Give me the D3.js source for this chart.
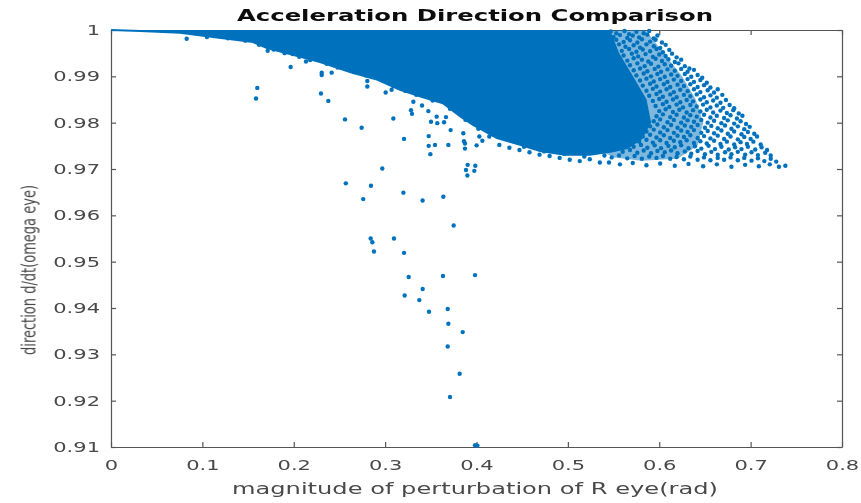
<!DOCTYPE html>
<html>
<head>
<meta charset="utf-8">
<script src="https://cdn.jsdelivr.net/npm/d3@7"></script>
<style>
  body { margin: 0; background: #fff; }
  svg { display: block; }
</style>
</head>
<body>
<svg id="chart"></svg>
<script>
// tick values and labels
const xTicks = [0, 0.1, 0.2, 0.3, 0.4, 0.5, 0.6, 0.7, 0.8];
const xTickLabels = ['0', '0.1', '0.2', '0.3', '0.4', '0.5', '0.6', '0.7', '0.8'];
const yTicks = [0.91, 0.92, 0.93, 0.94, 0.95, 0.96, 0.97, 0.98, 0.99, 1];
const yTickLabels = ['0.91', '0.92', '0.93', '0.94', '0.95', '0.96', '0.97', '0.98', '0.99', '1'];

// outline of the saturated part of the cloud (points overlap completely there)
const coreBoundary = [
  [0, 1.0], [0.032, 0.9998], [0.0755, 0.9994], [0.1116, 0.9985], [0.1554, 0.9974],
  [0.1707, 0.9961], [0.1959, 0.9948], [0.2287, 0.9931], [0.2616, 0.9909], [0.2911, 0.9893],
  [0.3163, 0.9871], [0.3414, 0.9855], [0.3633, 0.9842], [0.3819, 0.9814], [0.3962, 0.9795],
  [0.4224, 0.9767], [0.4476, 0.9752], [0.4695, 0.9739], [0.4968, 0.9731], [0.5242, 0.9731],
  [0.5461, 0.9737], [0.565, 0.9745], [0.58, 0.9765], [0.59, 0.9800], [0.585, 0.9850],
  [0.57, 0.9900], [0.555, 0.9950], [0.545, 1.0]
];

// outline of the half-covered zone just right of the core
const midBoundary = [
  [0.54, 1.0], [0.585, 1.0], [0.605, 0.995], [0.625, 0.990], [0.64, 0.985],
  [0.648, 0.980], [0.642, 0.975], [0.62, 0.9722], [0.58, 0.9718], [0.55, 0.9725], [0.54, 0.9735]
];

// individual points in the thinning tail of the cloud
const tailPoints = [
  [0.547,0.9997],[0.553,0.9993],[0.562,0.9998],[0.567,0.9991],[0.575,0.9996],[0.583,0.9993],[0.589,0.9998],
  [0.550,0.9985],[0.557,0.9989],[0.565,0.9983],[0.571,0.9988],[0.578,0.9984],[0.587,0.9990],[0.594,0.9982],[0.598,0.9988],
  [0.553,0.9979],[0.561,0.9974],[0.568,0.9978],[0.576,0.9973],[0.581,0.9980],[0.590,0.9975],[0.596,0.9979],[0.603,0.9973],
  [0.556,0.9969],[0.563,0.9964],[0.572,0.9967],[0.579,0.9962],[0.586,0.9969],[0.594,0.9965],[0.601,0.9961],[0.607,0.9968],
  [0.559,0.9955],[0.567,0.9959],[0.575,0.9953],[0.582,0.9958],[0.590,0.9954],[0.597,0.9959],[0.604,0.9952],[0.611,0.9957],
  [0.561,0.9945],[0.570,0.9949],[0.577,0.9943],[0.585,0.9948],[0.593,0.9942],[0.600,0.9947],[0.607,0.9944],[0.614,0.9949],[0.619,0.9941],
  [0.565,0.9934],[0.572,0.9939],[0.581,0.9936],[0.588,0.9932],[0.596,0.9938],[0.603,0.9933],[0.610,0.9937],[0.617,0.9931],[0.624,0.9936],
  [0.568,0.9924],[0.576,0.9928],[0.584,0.9922],[0.591,0.9927],[0.599,0.9921],[0.606,0.9926],[0.613,0.9923],[0.621,0.9928],[0.628,0.9922],[0.633,0.9917],
  [0.572,0.9913],[0.579,0.9917],[0.587,0.9911],[0.595,0.9916],[0.602,0.9910],[0.609,0.9915],[0.617,0.9912],[0.624,0.9916],[0.631,0.9910],[0.638,0.9914],
  [0.575,0.9902],[0.583,0.9906],[0.591,0.9900],[0.598,0.9905],[0.606,0.9899],[0.613,0.9904],[0.620,0.9901],[0.628,0.9905],[0.635,0.9899],[0.642,0.9903],[0.647,0.9897],
  [0.579,0.9891],[0.586,0.9895],[0.594,0.9889],[0.601,0.9894],[0.609,0.9888],[0.616,0.9893],[0.624,0.9890],[0.631,0.9894],[0.638,0.9888],[0.645,0.9892],[0.652,0.9886],
  [0.582,0.9880],[0.590,0.9884],[0.597,0.9878],[0.605,0.9883],[0.612,0.9877],[0.620,0.9882],[0.627,0.9879],[0.634,0.9883],[0.642,0.9877],[0.649,0.9881],[0.656,0.9876],
  [0.586,0.9869],[0.593,0.9873],[0.601,0.9867],[0.608,0.9872],[0.616,0.9866],[0.623,0.9871],[0.631,0.9868],[0.638,0.9872],[0.645,0.9866],[0.653,0.9870],[0.660,0.9865],[0.664,0.9872],
  [0.589,0.9858],[0.597,0.9862],[0.604,0.9856],[0.612,0.9861],[0.619,0.9855],[0.627,0.9860],[0.634,0.9857],[0.641,0.9861],[0.649,0.9855],[0.656,0.9859],[0.663,0.9854],[0.669,0.9860],
  [0.593,0.9847],[0.600,0.9851],[0.608,0.9845],[0.615,0.9850],[0.623,0.9844],[0.630,0.9849],[0.637,0.9846],[0.645,0.9850],[0.652,0.9844],[0.659,0.9848],[0.667,0.9843],[0.673,0.9849],
  [0.596,0.9836],[0.604,0.9840],[0.611,0.9834],[0.619,0.9839],[0.626,0.9833],[0.634,0.9838],[0.641,0.9835],[0.648,0.9839],[0.656,0.9833],[0.663,0.9837],[0.670,0.9832],[0.677,0.9838],[0.682,0.9831],
  [0.600,0.9825],[0.607,0.9829],[0.615,0.9823],[0.622,0.9828],[0.630,0.9822],[0.637,0.9827],[0.645,0.9824],[0.652,0.9828],[0.659,0.9822],[0.667,0.9826],[0.674,0.9821],[0.681,0.9827],[0.687,0.9820],
  [0.597,0.9814],[0.604,0.9818],[0.612,0.9812],[0.619,0.9817],[0.627,0.9811],[0.634,0.9816],[0.641,0.9813],[0.649,0.9817],[0.656,0.9811],[0.663,0.9815],[0.671,0.9810],[0.678,0.9816],[0.685,0.9809],[0.691,0.9815],
  [0.594,0.9803],[0.601,0.9807],[0.609,0.9801],[0.616,0.9806],[0.624,0.9800],[0.631,0.9805],[0.638,0.9802],[0.646,0.9806],[0.653,0.9800],[0.660,0.9804],[0.668,0.9799],[0.675,0.9805],[0.682,0.9798],[0.689,0.9803],[0.695,0.9797],
  [0.590,0.9792],[0.598,0.9796],[0.605,0.9790],[0.613,0.9795],[0.620,0.9789],[0.628,0.9794],[0.635,0.9791],[0.642,0.9795],[0.650,0.9789],[0.657,0.9793],[0.664,0.9788],[0.672,0.9794],[0.679,0.9787],[0.686,0.9792],[0.693,0.9786],[0.699,0.9791],
  [0.586,0.9781],[0.594,0.9785],[0.601,0.9779],[0.609,0.9784],[0.616,0.9778],[0.624,0.9783],[0.631,0.9780],[0.638,0.9784],[0.646,0.9778],[0.653,0.9782],[0.660,0.9777],[0.668,0.9783],[0.675,0.9776],[0.682,0.9781],[0.690,0.9775],[0.697,0.9780],[0.704,0.9776],
  [0.582,0.9770],[0.590,0.9774],[0.597,0.9768],[0.605,0.9773],[0.612,0.9767],[0.620,0.9772],[0.627,0.9769],[0.634,0.9773],[0.642,0.9767],[0.649,0.9771],[0.656,0.9766],[0.664,0.9772],[0.671,0.9765],[0.678,0.9770],[0.686,0.9764],[0.693,0.9769],[0.700,0.9765],[0.707,0.9770],
  [0.578,0.9759],[0.586,0.9763],[0.593,0.9757],[0.601,0.9762],[0.608,0.9756],[0.616,0.9761],[0.623,0.9758],[0.630,0.9762],[0.638,0.9756],[0.645,0.9760],[0.652,0.9755],[0.660,0.9761],[0.667,0.9754],[0.674,0.9759],[0.682,0.9753],[0.689,0.9758],[0.696,0.9754],[0.703,0.9759],[0.711,0.9753],
  [0.572,0.9748],[0.580,0.9752],[0.587,0.9746],[0.595,0.9751],[0.602,0.9745],[0.610,0.9750],[0.617,0.9747],[0.624,0.9751],[0.632,0.9745],[0.639,0.9749],[0.646,0.9744],[0.654,0.9750],[0.661,0.9743],[0.668,0.9748],[0.676,0.9742],[0.683,0.9747],[0.690,0.9743],[0.697,0.9748],[0.705,0.9742],[0.712,0.9747],[0.718,0.9741],
  [0.560,0.9737],[0.568,0.9741],[0.576,0.9735],[0.583,0.9740],[0.591,0.9734],[0.598,0.9739],[0.606,0.9736],[0.613,0.9740],[0.620,0.9734],[0.628,0.9738],[0.635,0.9733],[0.642,0.9739],[0.650,0.9732],[0.657,0.9737],[0.664,0.9731],[0.672,0.9736],[0.679,0.9732],[0.686,0.9737],[0.694,0.9731],[0.701,0.9736],[0.708,0.9730],[0.716,0.9735],[0.722,0.9729],
  [0.548,0.9725],[0.556,0.9729],[0.565,0.9723],[0.573,0.9728],[0.581,0.9722],[0.589,0.9727],[0.597,0.9724],[0.604,0.9728],[0.612,0.9722],[0.619,0.9726],[0.627,0.9721],[0.634,0.9727],[0.642,0.9720],[0.649,0.9725],[0.656,0.9719],[0.664,0.9724],[0.671,0.9720],[0.678,0.9725],[0.686,0.9719],[0.693,0.9724],[0.701,0.9718],[0.708,0.9723],[0.715,0.9717],[0.722,0.9722],[0.728,0.9716],
  [0.545,0.9714],[0.557,0.9710],[0.571,0.9713],[0.586,0.9708],[0.601,0.9712],[0.617,0.9707],[0.632,0.9711],[0.648,0.9706],[0.663,0.9710],[0.679,0.9705],[0.694,0.9709],[0.709,0.9706],[0.721,0.9710],[0.731,0.9705],[0.738,0.9707]
];

// points hanging just under the lower edge of the cloud
const edgePoints = [
  [0.105,0.9985],[0.128,0.9982],[0.147,0.9977],[0.162,0.9968],[0.178,0.9958],[0.190,0.9950],[0.206,0.9942],
  [0.218,0.9935],[0.236,0.9927],[0.248,0.9919],[0.266,0.9909],[0.279,0.9902],[0.296,0.9892],[0.309,0.9879],
  [0.322,0.9869],[0.334,0.9860],[0.352,0.9848],[0.371,0.9830],[0.388,0.9806],[0.402,0.9787],[0.414,0.9770],
  [0.425,0.9752],[0.436,0.9746],[0.447,0.9741],[0.458,0.9736],[0.469,0.9731],[0.480,0.9728],[0.491,0.9724],
  [0.502,0.9720],[0.513,0.9717],[0.524,0.9721],[0.535,0.9714],[0.452,0.9748],[0.474,0.9738],[0.496,0.9733],
  [0.518,0.9727],[0.540,0.9729]
];

// isolated points below the cloud
const outlierPoints = [
  [0.0828,0.9981],[0.1715,0.9955],[0.1988,0.9948],[0.1966,0.9920],[0.2134,0.9932],[0.2306,0.9908],[0.2306,0.9903],
  [0.2415,0.9908],[0.1601,0.9875],[0.1587,0.9852],[0.2298,0.9863],[0.2378,0.9847],[0.2805,0.9890],[0.2805,0.9878],
  [0.3006,0.9865],[0.3071,0.9871],[0.2561,0.9807],[0.2743,0.9789],[0.3090,0.9809],[0.3207,0.9765],[0.2969,0.9701],
  [0.2570,0.9669],[0.2845,0.9664],[0.2760,0.9635],[0.3200,0.9649],[0.3410,0.9632],[0.3637,0.9640],[0.3750,0.9578],
  [0.2842,0.9550],[0.2860,0.9542],[0.3097,0.9550],[0.2878,0.9522],[0.3207,0.9519],[0.3258,0.9467],[0.3633,0.9469],
  [0.3984,0.9471],[0.3411,0.9441],[0.3214,0.9427],[0.3374,0.9417],[0.3480,0.9392],[0.3685,0.9398],[0.3692,0.9366],
  [0.3849,0.9348],[0.3685,0.9317],[0.3816,0.9258],[0.3710,0.9208],[0.3984,0.9104],[0.4010,0.9103],
  [0.3283,0.9827],[0.3294,0.9819],[0.3309,0.9845],[0.3404,0.9837],[0.3473,0.9825],[0.3502,0.9802],[0.3571,0.9799],
  [0.3645,0.9801],[0.3564,0.9813],[0.3666,0.9812],[0.3717,0.9784],[0.3477,0.9771],[0.3477,0.9750],[0.3546,0.9752],
  [0.3495,0.9732],[0.3692,0.9752],[0.3856,0.9777],[0.3863,0.9760],[0.3874,0.9755],[0.3874,0.9744],[0.4001,0.9751],
  [0.4031,0.9770],[0.4064,0.9761],[0.3903,0.9709],[0.3987,0.9707],[0.3885,0.9698],[0.3976,0.9696],[0.3900,0.9686]
];

const width = 861, height = 503;
const margin = {top: 30, right: 19, bottom: 56, left: 111};
const innerW = width - margin.left - margin.right;
const innerH = height - margin.top - margin.bottom;
const blue = '#0072bd';
const axisColor = '#555';
const textColor = '#4a4a4a';

const svg = d3.select('#chart')
  .attr('width', width)
  .attr('height', height);

// the reference picture is a soft, upscaled screenshot
svg.append('defs').append('filter')
  .attr('id', 'soft')
  .append('feGaussianBlur')
  .attr('stdDeviation', 0.5);

const root = svg.append('g').attr('filter', 'url(#soft)');
const chart = root.append('g')
  .attr('transform', `translate(${margin.left},${margin.top})`);

const x = d3.scaleLinear().domain([0, 0.8]).range([0, innerW]);
const y = d3.scaleLinear().domain([0.91, 1]).range([innerH, 0]);

// axes with inward ticks on all four sides (box on)
const xAxis = d3.axisBottom(x).tickValues(xTicks)
  .tickFormat((d, i) => xTickLabels[i]).tickSize(-5).tickPadding(13).tickSizeOuter(0);
const yAxis = d3.axisLeft(y).tickValues(yTicks)
  .tickFormat((d, i) => yTickLabels[i]).tickSize(-5).tickPadding(11).tickSizeOuter(0);
const xTop = d3.axisTop(x).tickValues(xTicks).tickFormat('').tickSize(-5).tickSizeOuter(0);
const yRight = d3.axisRight(y).tickValues(yTicks).tickFormat('').tickSize(-5).tickSizeOuter(0);

chart.append('g').attr('transform', `translate(0,${innerH})`).call(xAxis);
chart.append('g').call(yAxis);
chart.append('g').call(xTop);
chart.append('g').attr('transform', `translate(${innerW},0)`).call(yRight);

chart.selectAll('.domain').attr('stroke', axisColor).attr('stroke-width', 1.2);
chart.selectAll('.tick line').attr('stroke', axisColor).attr('stroke-width', 1.2);

// tick labels are stretched horizontally in the reference
chart.selectAll('.tick text')
  .attr('fill', textColor)
  .style('font-family', 'DejaVu Sans, sans-serif')
  .style('font-size', '14px')
  .each(function() {
    const len = this.getComputedTextLength();
    if (len > 0) {
      d3.select(this).attr('textLength', len * 1.5).attr('lengthAdjust', 'spacingAndGlyphs');
    }
  });

const outline = d3.line().x(d => x(d[0])).y(d => y(d[1]));

// half-covered zone, then the dense core of the cloud
chart.append('path')
  .datum(midBoundary)
  .attr('d', outline)
  .attr('fill', blue)
  .attr('fill-opacity', 0.5);

chart.append('path')
  .datum(coreBoundary)
  .attr('d', outline)
  .attr('fill', blue)
  .attr('stroke', blue)
  .attr('stroke-width', 2);

// single markers
const allPoints = tailPoints.concat(edgePoints, outlierPoints);
chart.append('g')
  .selectAll('circle')
  .data(allPoints)
  .join('circle')
  .attr('cx', d => x(d[0]))
  .attr('cy', d => y(d[1]))
  .attr('r', 2.2)
  .attr('fill', blue);

// title and axis labels
root.append('text')
  .attr('x', 475)
  .attr('y', 21)
  .attr('text-anchor', 'middle')
  .attr('textLength', 476)
  .attr('lengthAdjust', 'spacingAndGlyphs')
  .style('font-family', 'DejaVu Sans, sans-serif')
  .style('font-weight', 'bold')
  .style('font-size', '16px')
  .attr('fill', '#111')
  .text('Acceleration Direction Comparison');

root.append('text')
  .attr('x', 475)
  .attr('y', 494)
  .attr('text-anchor', 'middle')
  .attr('textLength', 486)
  .attr('lengthAdjust', 'spacingAndGlyphs')
  .style('font-family', 'DejaVu Sans, sans-serif')
  .style('font-size', '15px')
  .attr('fill', textColor)
  .text('magnitude of perturbation of R eye(rad)');

root.append('text')
  .attr('transform', 'translate(35,270) scale(1.5,1) rotate(-90)')
  .attr('text-anchor', 'middle')
  .attr('textLength', 170)
  .attr('lengthAdjust', 'spacingAndGlyphs')
  .style('font-family', 'DejaVu Sans, sans-serif')
  .style('font-size', '13px')
  .attr('fill', textColor)
  .text('direction d/dt(omega eye)');
</script>
</body>
</html>
